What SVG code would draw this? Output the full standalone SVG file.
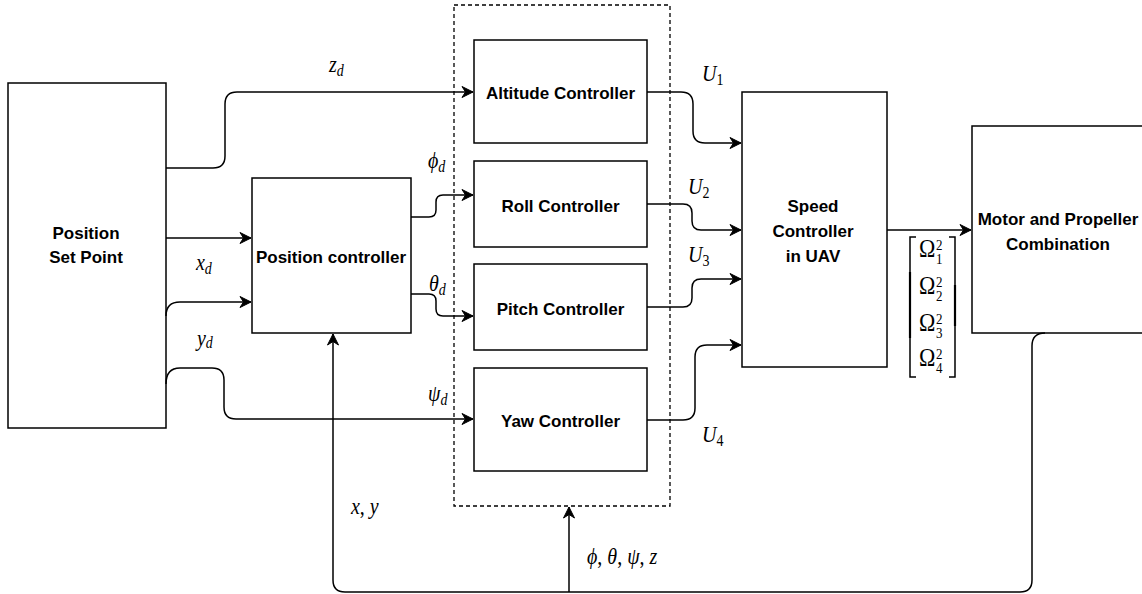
<svg xmlns="http://www.w3.org/2000/svg" width="1142" height="594" viewBox="0 0 1142 594">
<style>
.box{fill:#fff;stroke:#000;stroke-width:1.5}
.dash{fill:none;stroke:#000;stroke-width:1.3;stroke-dasharray:4 3}
.lbl{font-family:"Liberation Sans",Arial,sans-serif;font-weight:bold;font-size:17px;fill:#000;text-anchor:middle}
.m{font-family:"Liberation Serif","Times New Roman",serif;font-style:italic;font-size:20px;fill:#000}
.ms{font-family:"Liberation Serif","Times New Roman",serif;font-size:14px;fill:#000}
.mu{font-family:"Liberation Serif","Times New Roman",serif;font-style:normal;font-size:22px;fill:#000}
.sc{font-family:"Liberation Serif","Times New Roman",serif;font-style:normal;font-size:13px;fill:#000}
.c{fill:none;stroke:#000;stroke-width:1.5}
</style>
<defs>
<marker id="ar" viewBox="-12 -7 13 14" markerWidth="13" markerHeight="14" refX="0" refY="0" orient="auto" markerUnits="userSpaceOnUse">
<path d="M0,0 L-11,-5.5 L-7.5,0 L-11,5.5 Z" fill="#000" stroke="#000" stroke-width="1"/>
</marker>
</defs>
<rect width="1142" height="594" fill="#fff"/>

<g id="attitude-group">
<rect class="dash" x="454" y="5" width="216" height="501"/>
</g>

<g id="position-set-point">
<rect class="box" x="8" y="83" width="158" height="345"/>
<text class="lbl" x="86" y="239">Position</text>
<text class="lbl" x="86" y="263">Set Point</text>
</g>

<g id="position-controller">
<rect class="box" x="252" y="178" width="159" height="155"/>
<text class="lbl" x="331" y="263">Position controller</text>
</g>

<g id="altitude-controller">
<rect class="box" x="474" y="40" width="173" height="103"/>
<text class="lbl" x="560.5" y="99">Altitude Controller</text>
</g>

<g id="roll-controller">
<rect class="box" x="474" y="161" width="173" height="86"/>
<text class="lbl" x="560.5" y="212">Roll Controller</text>
</g>

<g id="pitch-controller">
<rect class="box" x="474" y="264" width="173" height="86"/>
<text class="lbl" x="560.5" y="315">Pitch Controller</text>
</g>

<g id="yaw-controller">
<rect class="box" x="474" y="368" width="173" height="103"/>
<text class="lbl" x="560.5" y="427">Yaw Controller</text>
</g>

<g id="speed-controller">
<rect class="box" x="742" y="92" width="145" height="275"/>
<text class="lbl" x="813" y="212">Speed</text>
<text class="lbl" x="813" y="237">Controller</text>
<text class="lbl" x="813" y="262">in UAV</text>
</g>

<g id="motor-propeller">
<rect class="box" x="972" y="126" width="180" height="207"/>
<text class="lbl" x="1058" y="225">Motor and Propeller</text>
<text class="lbl" x="1058" y="250">Combination</text>
</g>

<g id="connectors">
<path class="c" marker-end="url(#ar)" d="M166,168 H213 Q225,168 225,156 V104 Q225,92 237,92 H473"/>
<path class="c" marker-end="url(#ar)" d="M166,238 H251"/>
<path class="c" marker-end="url(#ar)" d="M166,316 Q166,302 180,302 H251"/>
<path class="c" marker-end="url(#ar)" d="M166,384 Q166,368 180,368 H212 Q224,368 224,380 V407 Q224,419 236,419 H473"/>
<path class="c" marker-end="url(#ar)" d="M411,217 H429 Q436,217 436,210 V202 Q436,195 443,195 H473"/>
<path class="c" marker-end="url(#ar)" d="M411,294 H429 Q436,294 436,301 V309 Q436,316 443,316 H473"/>
<path class="c" marker-end="url(#ar)" d="M647,92 H681 Q693,92 693,104 V131 Q693,143 705,143 H741"/>
<path class="c" marker-end="url(#ar)" d="M647,204 H683 Q692,204 692,213 V221 Q692,230 701,230 H741"/>
<path class="c" marker-end="url(#ar)" d="M647,307 H683 Q692,307 692,298 V288 Q692,279 701,279 H741"/>
<path class="c" marker-end="url(#ar)" d="M647,420 H683 Q695,420 695,408 V357 Q695,345 707,345 H741"/>
<path class="c" marker-end="url(#ar)" d="M887,230 H971"/>
<path class="c" marker-end="url(#ar)" d="M1045,333 Q1032,333 1032,346 V580 Q1032,592 1020,592 H345 Q333,592 333,580 V334"/>
<path class="c" marker-end="url(#ar)" d="M569,592 V507"/>
</g>

<g id="labels">
<g transform="translate(329,72) scale(1,1.12)"><text class="m" x="0" y="0">z<tspan class="ms" dy="4">d</tspan></text></g>
<g transform="translate(196,270) scale(1,1.12)"><text class="m" x="0" y="0">x<tspan class="ms" dy="4">d</tspan></text></g>
<g transform="translate(197,346) scale(1,1.12)"><text class="m" x="0" y="0">y<tspan class="ms" dy="2">d</tspan></text></g>
<g transform="translate(428,168) scale(1,1.12)"><text class="m" x="0" y="0">ϕ<tspan class="ms" dy="4">d</tspan></text></g>
<g transform="translate(429,291) scale(1,1.12)"><text class="m" x="0" y="0">θ<tspan class="ms" dy="4">d</tspan></text></g>
<g transform="translate(428,401) scale(1,1.12)"><text class="m" x="0" y="0">ψ<tspan class="ms" dy="4">d</tspan></text></g>
<g transform="translate(702,81) scale(1,1.12)"><text class="m" x="0" y="0">U<tspan class="ms" dy="4" font-style="normal">1</tspan></text></g>
<g transform="translate(688,194) scale(1,1.12)"><text class="m" x="0" y="0">U<tspan class="ms" dy="4" font-style="normal">2</tspan></text></g>
<g transform="translate(688,262) scale(1,1.12)"><text class="m" x="0" y="0">U<tspan class="ms" dy="4" font-style="normal">3</tspan></text></g>
<g transform="translate(702,442) scale(1,1.12)"><text class="m" x="0" y="0">U<tspan class="ms" dy="4" font-style="normal">4</tspan></text></g>
<g transform="translate(351,514) scale(1,1.12)"><text class="m" x="0" y="0" font-size="21">x<tspan font-style="normal">, </tspan>y</text></g>
<g transform="translate(587,564) scale(1,1.12)"><text class="m" x="0" y="0" font-size="21">ϕ<tspan font-style="normal">, </tspan>θ<tspan font-style="normal">, </tspan>ψ<tspan font-style="normal">, </tspan>z</text></g>
</g>

<g id="omega-vector">
<path class="c" d="M916,237 H910 V377 H916"/>
<path d="M910,272 V338" stroke="#000" stroke-width="2.2" fill="none"/>
<path class="c" d="M949,237 H955 V377 H949"/>
<path d="M955,285 V326" stroke="#000" stroke-width="2.2" fill="none"/>
<g transform="translate(919,257) scale(1,1.15)"><text class="mu" x="0" y="0">Ω</text><text class="sc" x="17" y="-6">2</text><text class="sc" x="17" y="6">1</text></g>
<g transform="translate(919,294) scale(1,1.15)"><text class="mu" x="0" y="0">Ω</text><text class="sc" x="17" y="-6">2</text><text class="sc" x="17" y="6">2</text></g>
<g transform="translate(919,331) scale(1,1.15)"><text class="mu" x="0" y="0">Ω</text><text class="sc" x="17" y="-6">2</text><text class="sc" x="17" y="6">3</text></g>
<g transform="translate(919,366) scale(1,1.15)"><text class="mu" x="0" y="0">Ω</text><text class="sc" x="17" y="-6">2</text><text class="sc" x="17" y="6">4</text></g>
</g>
</svg>
